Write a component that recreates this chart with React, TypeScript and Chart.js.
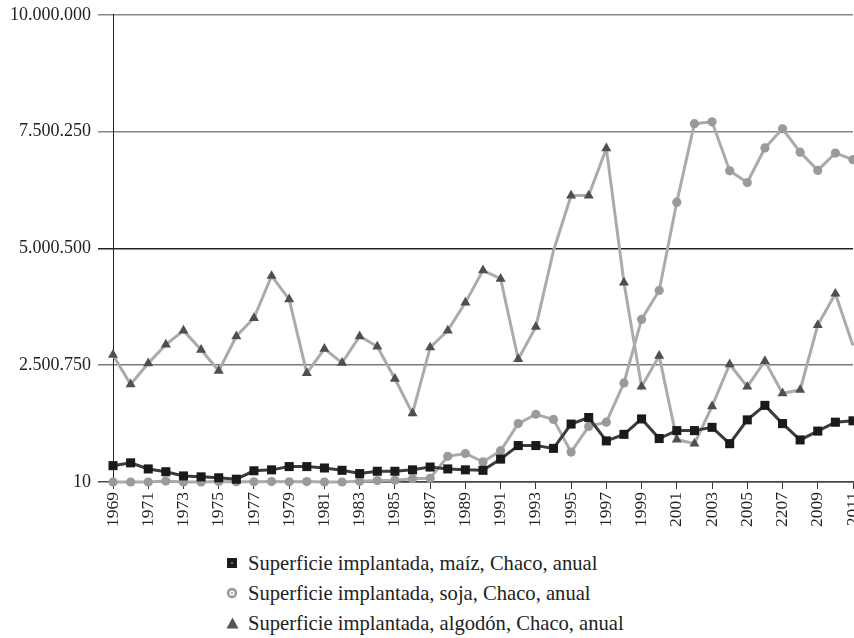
import React, { useEffect, useRef } from "react";
import { Chart, registerables } from "chart.js";

Chart.register(...registerables);

const categories = [
  "1969", "1970", "1971", "1972", "1973", "1974", "1975", "1976", "1977", "1978",
  "1979", "1980", "1981", "1982", "1983", "1984", "1985", "1986", "1987", "1988",
  "1989", "1990", "1991", "1992", "1993", "1994", "1995", "1996", "1997", "1998",
  "1999", "2000", "2001", "2002", "2003", "2004", "2005", "2006", "2207", "2008",
  "2009", "2010", "2011",
];

const maiz = [
  350000, 410000, 280000, 220000, 130000, 110000, 90000, 60000, 240000, 260000,
  330000, 330000, 300000, 250000, 180000, 230000, 230000, 260000, 320000, 280000,
  260000, 250000, 490000, 780000, 780000, 720000, 1240000, 1380000, 880000, 1020000,
  1350000, 930000, 1100000, 1100000, 1170000, 820000, 1330000, 1640000, 1250000, 900000,
  1090000, 1280000, 1310000,
];

const soja = [
  0, 0, 0, 20000, 0, 0, 10000, 5000, 5000, 10000,
  5000, 10000, 0, 0, 15000, 30000, 40000, 70000, 80000, 550000,
  610000, 430000, 670000, 1250000, 1450000, 1340000, 640000, 1190000, 1280000, 2120000,
  3480000, 4100000, 5990000, 7670000, 7710000, 6660000, 6410000, 7150000, 7560000, 7060000,
  6670000, 7040000, 6900000,
];

const algodon = [
  2720000, 2090000, 2540000, 2940000, 3240000, 2830000, 2380000, 3120000, 3510000, 4410000,
  3910000, 2330000, 2850000, 2550000, 3120000, 2900000, 2210000, 1470000, 2880000, 3240000,
  3840000, 4530000, 4350000, 2630000, 3320000, 4950000, 6130000, 6130000, 7140000, 4270000,
  2040000, 2700000, 910000, 820000, 1620000, 2520000, 2040000, 2590000, 1900000, 1970000,
  3360000, 4030000, 2920000,
];

const yTicks = [10, 2500750, 5000500, 7500250, 10000000];

const legendLabels = [
  "Superficie implantada, maíz, Chaco, anual",
  "Superficie implantada, soja, Chaco, anual",
  "Superficie implantada, algodón, Chaco, anual",
];

const fmt = (n: number) => String(Math.round(n)).replace(/\B(?=(\d{3})+(?!\d))/g, ".");

const SERIF = "'Liberation Serif', 'Times New Roman', serif";

const CW = 877;
const CH = 533;

export default function App() {
  const ref = useRef<HTMLCanvasElement | null>(null);

  useEffect(() => {
    document.body.style.margin = "0";
    const canvas = ref.current;
    if (!canvas) return;
    const algRadius = algodon.map((_, i) => (i === 25 || i === algodon.length - 1 ? 0 : 5.8));
    const chart = new Chart(canvas, {
      type: "line",
      data: {
        labels: categories,
        datasets: [
          {
            label: legendLabels[0],
            data: maiz,
            borderColor: "#3c3c3c",
            backgroundColor: "#1a1a1a",
            borderWidth: 3,
            pointStyle: "rect",
            pointRadius: 6.4,
            pointBorderWidth: 0,
            pointBackgroundColor: "#1a1a1a",
            tension: 0,
            clip: false,
          },
          {
            label: legendLabels[1],
            data: soja,
            borderColor: "#ababab",
            backgroundColor: "#9a9a9a",
            borderWidth: 3,
            pointStyle: "circle",
            pointRadius: 4.6,
            pointBorderWidth: 0,
            pointBackgroundColor: "#9a9a9a",
            tension: 0,
            clip: false,
          },
          {
            label: legendLabels[2],
            data: algodon,
            borderColor: "#ababab",
            backgroundColor: "#555555",
            borderWidth: 3,
            pointStyle: "triangle",
            pointRadius: algRadius,
            pointBorderWidth: 0,
            pointBackgroundColor: "#4f4f4f",
            tension: 0,
            clip: false,
          },
        ],
      },
      options: {
        animation: false,
        responsive: false,
        devicePixelRatio: 1,
        layout: { padding: { top: 1, right: 0, left: 0, bottom: 0 } },
        plugins: {
          legend: { display: false },
          tooltip: { enabled: false },
        },
        scales: {
          x: {
            type: "category",
            offset: false,
            grid: {
              display: true,
              drawOnChartArea: false,
              drawTicks: true,
              tickLength: 7,
              color: "#333",
              lineWidth: 1,
            },
            border: { display: true, color: "#444", width: 1.5 },
            ticks: {
              autoSkip: false,
              maxRotation: 90,
              minRotation: 90,
              padding: 3,
              color: "#222",
              font: { family: SERIF, size: 17.5 },
              callback: (_v: any, i: number) => (i % 2 === 0 ? categories[i] : null),
            },
          },
          y: {
            min: 10,
            max: 10000000,
            afterBuildTicks: (axis: any) => {
              axis.ticks = yTicks.map((v) => ({ value: v }));
            },
            afterFit: (axis: any) => {
              axis.width = 113;
            },
            grid: {
              display: true,
              drawOnChartArea: true,
              drawTicks: true,
              tickLength: 15,
              lineWidth: 1.5,
              color: (ctx: any) => {
                const c = ["#4a4a4a", "#7a7a7a", "#222222", "#858585", "#8a8a8a"];
                return c[ctx.index] ?? "#888";
              },
            },
            border: { display: true, color: "#222", width: 1 },
            ticks: {
              padding: 7,
              color: "#222",
              font: { family: SERIF, size: 18 },
              callback: (v: any) => fmt(Number(v)),
            },
          },
        },
      },
    });
    return () => chart.destroy();
  }, []);

  const marker = (i: number) => {
    if (i === 0)
      return (
        <svg width="12" height="12" viewBox="0 0 12 12">
          <rect x="1" y="1" width="10" height="10" fill="#1c1c1c" />
          <circle cx="6" cy="6" r="1" fill="#8a8a8a" />
        </svg>
      );
    if (i === 1)
      return (
        <svg width="12" height="12" viewBox="0 0 12 12">
          <circle cx="6" cy="6" r="5.2" fill="#9a9a9a" />
          <circle cx="6" cy="6" r="2.6" fill="#ffffff" />
          <circle cx="6" cy="6" r="1.1" fill="#9a9a9a" />
        </svg>
      );
    return (
      <svg width="13" height="12" viewBox="0 0 13 12">
        <polygon points="6.5,0.5 12.5,11.5 0.5,11.5" fill="#555555" />
      </svg>
    );
  };

  return (
    <div style={{ position: "relative", width: 854, height: 638, overflow: "hidden", background: "#fff" }}>
      <canvas
        ref={ref}
        width={CW}
        height={CH}
        style={{ position: "absolute", left: 0, top: -3, width: CW, height: CH }}
      />
      <div style={{ position: "absolute", left: 226, top: 548 }}>
        {legendLabels.map((t, i) => (
          <div
            key={t}
            style={{
              display: "flex",
              alignItems: "center",
              height: 30,
              fontFamily: SERIF,
              fontSize: 20.6,
              color: "#222",
              whiteSpace: "nowrap",
            }}
          >
            <span style={{ width: 22, display: "inline-flex", alignItems: "center" }}>{marker(i)}</span>
            <span>{t}</span>
          </div>
        ))}
      </div>
    </div>
  );
}
